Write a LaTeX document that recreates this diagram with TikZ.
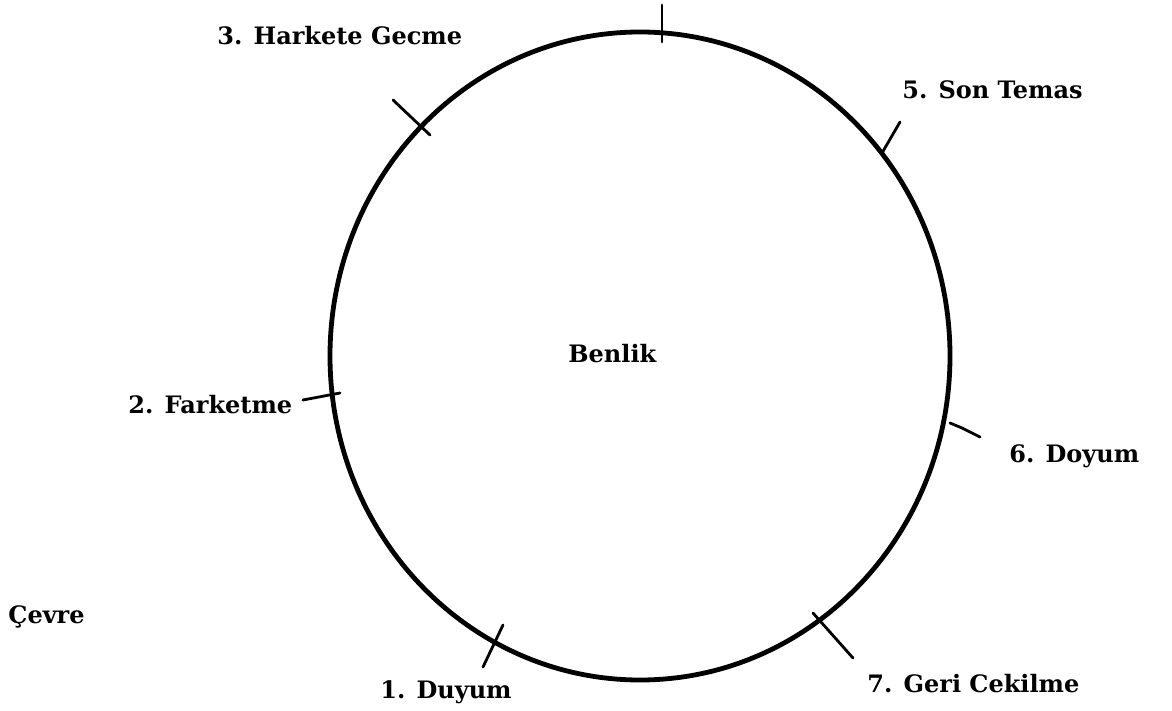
\documentclass[tikz,border=0pt]{standalone}
\usepackage{fontspec}
\setmainfont{DejaVu Serif}
\usepackage{tikz}
\usetikzlibrary{positioning}

\begin{document}
\begin{tikzpicture}[x=0.5pt, y=-0.5pt,
  ring/.style={line width=2.4pt},
  tickmark/.style={line width=1.4pt, line cap=round},
  lbl/.style={font=\fontsize{12}{14}\selectfont\bfseries, anchor=base west, inner sep=0pt}]
\useasboundingbox (0,0) rectangle (1172,711);

% The self
\coordinate (c) at (640,356);
\draw[ring] (c) ellipse (310 and 324);
\node[lbl] (benlik) at (568,362) {Benlik};

% Tick marks on the contact boundary
\draw[tickmark] (662,5) -- (662,42);
\draw[tickmark] (393,100) -- (430,135);
\draw[tickmark] (882,153) -- (900,122);
\draw[tickmark] (303,400) -- (340,393);
\draw[tickmark] (950,423) -- (962,428) -- (980,437);
\draw[tickmark] (503,625) -- (483,667);
\draw[tickmark] (813,613) -- (853,658);

% Stages of the cycle
\node[lbl] (duyum) at (380,698) {1. Duyum};
\node[lbl] (farketme) at (128,413) {2. Farketme};
\node[lbl] (harekete) at (217,45) {3. Harkete Gecme};
\node[lbl] (temas) at (902,99) {5. Son Temas};
\node[lbl] (doyum) at (1009,462) {6. Doyum};
\node[lbl] (cekilme) at (867,692) {7. Geri Cekilme};

% Environment
\node[lbl] (cevre) at (8,623) {Çevre};
\end{tikzpicture}
\end{document}
